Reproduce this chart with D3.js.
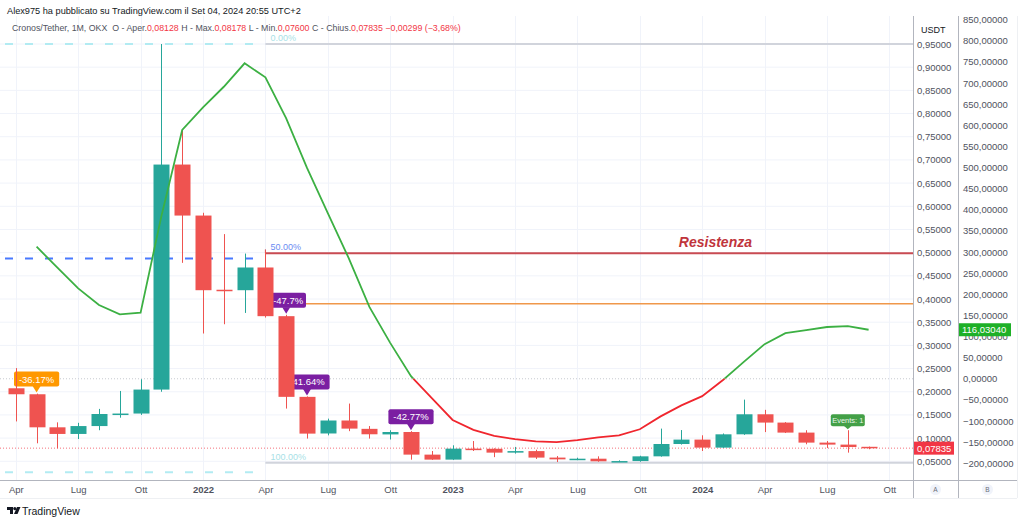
<!DOCTYPE html>
<html>
<head>
<meta charset="utf-8">
<script src="https://cdn.jsdelivr.net/npm/d3@7"></script>
<style>
body { margin: 0; background: #fff; }
svg { display: block; font-family: "Liberation Sans", Arial, sans-serif; }
</style>
</head>
<body>
<svg id="chart" width="1024" height="522"></svg>
<script>
// monthly bars, Apr 2021 .. Sep 2024
var months = ["2021-04","2021-05","2021-06","2021-07","2021-08","2021-09","2021-10","2021-11","2021-12",
  "2022-01","2022-02","2022-03","2022-04","2022-05","2022-06","2022-07","2022-08","2022-09","2022-10","2022-11","2022-12",
  "2023-01","2023-02","2023-03","2023-04","2023-05","2023-06","2023-07","2023-08","2023-09","2023-10","2023-11","2023-12",
  "2024-01","2024-02","2024-03","2024-04","2024-05","2024-06","2024-07","2024-08","2024-09"];
var open  = [0.2075,0.1946,0.1233,0.109,0.126,0.152,0.153,0.2047,0.690,
  0.580,0.420,0.419,0.468,0.363,0.189,0.110,0.138,0.120,0.108,0.1132,0.0644,
  0.0536,0.0773,0.0770,0.0687,0.072,0.058,0.0542,0.0556,0.050,0.0505,0.0607,0.0873,
  0.0968,0.0795,0.1082,0.1514,0.1335,0.1119,0.0903,0.0860,0.08128];
var high  = [0.251,0.196,0.134,0.133,0.163,0.2017,0.227,0.950,0.764,
  0.586,0.540,0.498,0.504,0.366,0.190,0.142,0.1745,0.126,0.117,0.115,0.0722,
  0.0845,0.0937,0.078,0.081,0.075,0.0613,0.0577,0.0607,0.052,0.062,0.1205,0.1174,
  0.1061,0.110,0.183,0.161,0.1345,0.117,0.0937,0.117,0.08178];
var low   = [0.136,0.0888,0.078,0.098,0.117,0.144,0.150,0.200,0.478,
  0.3256,0.3456,0.370,0.360,0.1637,0.099,0.106,0.115,0.099,0.097,0.0535,0.053,
  0.053,0.0722,0.059,0.0666,0.055,0.0484,0.0525,0.049,0.0484,0.049,0.060,0.086,
  0.0722,0.079,0.107,0.113,0.111,0.0867,0.0787,0.0687,0.0760];
var close = [0.1946,0.1233,0.109,0.126,0.152,0.153,0.2047,0.690,0.580,
  0.419,0.418,0.468,0.363,0.189,0.1097,0.138,0.1205,0.1083,0.1132,0.0644,0.0536,
  0.0773,0.0770,0.0687,0.072,0.058,0.0542,0.0556,0.050,0.0505,0.0607,0.0873,0.0968,
  0.0795,0.1082,0.1514,0.1335,0.1119,0.0903,0.0860,0.0808,0.07835];
// oscillator on scale B
var osc = [null,312.5,263,214,174.6,152.6,156.4,385,588.7,
  642.4,691,746.5,713.4,616,499,392,286,170,85,6,-45.5,
  -97.5,-121,-135,-143,-148,-150,-145,-138.5,-133.7,-119.5,-89,-63,
  -41,-3,40,82,108,115,122.5,124.8,116.0304];

var priceTicks = [0.05,0.10,0.15,0.20,0.25,0.30,0.35,0.40,0.45,0.50,0.55,0.60,0.65,0.70,0.75,0.80,0.85,0.90,0.95];
var bTicks = [-200,-150,-100,-50,0,50,100,150,200,250,300,350,400,450,500,550,600,650,700,750,800,850];
var timeTickIdx = [0,3,6,9,12,15,18,21,24,27,30,33,36,39,42];
var timeTickLabels = ["Apr","Lug","Ott","2022","Apr","Lug","Ott","2023","Apr","Lug","Ott","2024","Apr","Lug","Ott"];

// drawings
var fibStartIdx = 12;
var fibLevels = [0.95, 0.4985, 0.047];
var fibLabels = ["0.00%", "50.00%", "100.00%"];
var orangeLevel = 0.390;
var blueDashLevel = 0.4875;
var cyanLevels = [0.95, 0.0262];
var dashEndIdx = 11.5;
var callIdx = [1, 13, 14, 19, 40];
var callText = ["-36.17%", "-47.7%", "-41.64%", "-42.77%", "Events: 1"];
var lastPrice = 0.07835;

var itLocale = d3.formatLocale({decimal: ",", thousands: ".", grouping: [3], currency: ["", ""], minus: "\u2212"});
var fmt5 = itLocale.format(".5f");

var svg = d3.select("#chart");
var plotL = 0, plotR = 913, plotT = 16, plotB = 480;

var x = d3.scaleLinear().domain([0, 42]).range([15.8, 889.4]);
var yA = d3.scaleLinear().domain([0.05, 0.95]).range([461.3, 44]);
var yB = d3.scaleLinear().domain([-200, 800]).range([463.3, 40.7]);

var defs = svg.append("defs");
defs.append("clipPath").attr("id", "plot")
  .append("rect").attr("x", plotL).attr("y", plotT).attr("width", plotR - plotL).attr("height", plotB - plotT);
defs.append("clipPath").attr("id", "above")
  .append("rect").attr("x", 0).attr("y", 0).attr("width", plotR).attr("height", yB(0));
defs.append("clipPath").attr("id", "below")
  .append("rect").attr("x", 0).attr("y", yB(0)).attr("width", plotR).attr("height", 600);
defs.append("clipPath").attr("id", "axisB")
  .append("rect").attr("x", 958).attr("y", plotT).attr("width", 60).attr("height", plotB - plotT);

// grid
var grid = svg.append("g").attr("clip-path", "url(#plot)");
grid.selectAll("line.h").data(priceTicks).enter().append("line")
  .attr("x1", plotL).attr("x2", plotR).attr("y1", d => yA(d)).attr("y2", d => yA(d))
  .attr("stroke", "#f0f3fa").attr("stroke-width", 1);
grid.selectAll("line.v").data(timeTickIdx).enter().append("line")
  .attr("x1", d => Math.round(x(d)) + 0.5).attr("x2", d => Math.round(x(d)) + 0.5).attr("y1", plotT).attr("y2", plotB)
  .attr("stroke", "#f0f3fa").attr("stroke-width", 1);

var plot = svg.append("g").attr("clip-path", "url(#plot)");

// zero line of oscillator and last price line
plot.append("line").attr("x1", plotL).attr("x2", plotR).attr("y1", yB(0)).attr("y2", yB(0))
  .attr("stroke", "#c8cad0").attr("stroke-dasharray", "1,2");
plot.append("line").attr("x1", plotL).attr("x2", plotR).attr("y1", yA(lastPrice)).attr("y2", yA(lastPrice))
  .attr("stroke", "#f23645").attr("stroke-dasharray", "1,2").attr("opacity", 0.7);

// dashed horizontal lines on the left
plot.selectAll("line.cy").data(cyanLevels).enter().append("line")
  .attr("x1", 5).attr("x2", x(dashEndIdx)).attr("y1", d => yA(d)).attr("y2", d => yA(d))
  .attr("stroke", "#b2ebf2").attr("stroke-width", 2).attr("stroke-dasharray", "8,12");
plot.append("line").attr("x1", 5).attr("x2", x(dashEndIdx))
  .attr("y1", yA(blueDashLevel)).attr("y2", yA(blueDashLevel))
  .attr("stroke", "#2962ff").attr("stroke-width", 2).attr("stroke-dasharray", "8,12").attr("opacity", 0.85);

// fib levels
var fx = x(fibStartIdx);
plot.append("line").attr("x1", fx).attr("x2", plotR).attr("y1", yA(fibLevels[0])).attr("y2", yA(fibLevels[0]))
  .attr("stroke", "#d1d4dc").attr("stroke-width", 2);
plot.append("line").attr("x1", fx).attr("x2", plotR).attr("y1", yA(fibLevels[2])).attr("y2", yA(fibLevels[2]))
  .attr("stroke", "#d1d4dc").attr("stroke-width", 2);
plot.append("line").attr("x1", fx).attr("x2", plotR).attr("y1", yA(fibLevels[1])).attr("y2", yA(fibLevels[1]))
  .attr("stroke", "#c94b52").attr("stroke-width", 2);
plot.append("line").attr("x1", fx).attr("x2", fx).attr("y1", yA(fibLevels[1]) - 4).attr("y2", yA(fibLevels[1]))
  .attr("stroke", "#c94b52").attr("stroke-width", 1);
plot.append("line").attr("x1", fx).attr("x2", plotR).attr("y1", yA(orangeLevel)).attr("y2", yA(orangeLevel))
  .attr("stroke", "#f0984a").attr("stroke-width", 1.5);
var fibColors = ["#a8dfe6", "#6b8cf2", "#a8dfe6"];
plot.selectAll("text.fib").data(fibLevels).enter().append("text")
  .attr("x", fx + 5).attr("y", d => yA(d) - 3)
  .attr("font-size", 9).attr("fill", (d, i) => fibColors[i]).text((d, i) => fibLabels[i]);
plot.append("text").attr("x", 752).attr("y", 247).attr("text-anchor", "end")
  .attr("font-size", 14).attr("font-weight", "bold").attr("font-style", "italic")
  .attr("fill", "#c0343c").text("Resistenza");

// callouts (behind candles)
var callColors = ["#ff9800", "#7b1fa2", "#7b1fa2", "#7b1fa2", "#43a047"];
var calls = plot.selectAll("g.call").data(callIdx).enter().append("g");
calls.each(function(d, k) {
  var g = d3.select(this);
  var cx = x(d), tip = yA(high[d]) - 1;
  var small = k === 4;
  var h = small ? 12 : 15, w = small ? 34 : (callText[k].length * 5.6 + 6);
  var by = tip - (small ? 3 : 6) - h;
  var tx = cx + (k === 1 ? 2 : 0);
  g.append("rect").attr("x", cx - w / 2).attr("y", by).attr("width", w).attr("height", h)
    .attr("rx", 2).attr("fill", callColors[k]);
  g.append("path").attr("d", "M" + (cx - 4) + "," + (by + h - 0.5) + "L" + cx + "," + tip + "L" + (cx + 4) + "," + (by + h - 0.5) + "Z")
    .attr("fill", callColors[k]);
  g.append("text").attr("x", tx).attr("y", by + h / 2 + (small ? 2.5 : 3.5)).attr("text-anchor", "middle")
    .attr("font-size", small ? 7.5 : 9.5).attr("fill", small ? "#e8f5e9" : "#fff").text(callText[k]);
});

// candles
var up = "#26a69a", dn = "#ef5350";
var candles = plot.selectAll("g.c").data(months).enter().append("g");
candles.append("line")
  .attr("x1", (d, i) => Math.round(x(i)) + 0.5).attr("x2", (d, i) => Math.round(x(i)) + 0.5)
  .attr("y1", (d, i) => yA(high[i])).attr("y2", (d, i) => yA(low[i]))
  .attr("stroke", (d, i) => close[i] >= open[i] ? up : dn).attr("stroke-width", 1);
candles.append("rect")
  .attr("x", (d, i) => Math.round(x(i)) - 7.5).attr("width", 16)
  .attr("y", (d, i) => yA(Math.max(open[i], close[i])))
  .attr("height", (d, i) => Math.max(1.5, Math.abs(yA(open[i]) - yA(close[i]))))
  .attr("fill", (d, i) => close[i] >= open[i] ? up : dn);

// oscillator line, green above zero and red below
var oscLine = d3.line().defined(d => d !== null).x((d, i) => x(i)).y(d => yB(d));
plot.append("path").datum(osc).attr("d", oscLine).attr("fill", "none")
  .attr("stroke", "#3cb043").attr("stroke-width", 1.8).attr("clip-path", "url(#above)");
plot.append("path").datum(osc).attr("d", oscLine).attr("fill", "none")
  .attr("stroke", "#f0262e").attr("stroke-width", 1.8).attr("clip-path", "url(#below)");

// frame lines
svg.append("line").attr("x1", 0).attr("x2", 1017).attr("y1", plotB + 0.5).attr("y2", plotB + 0.5).attr("stroke", "#b2b5be");
[913, 958].forEach(function(v) {
  svg.append("line").attr("x1", v + 0.5).attr("x2", v + 0.5).attr("y1", plotT).attr("y2", 498).attr("stroke", "#b2b5be");
});
svg.append("line").attr("x1", 1017.5).attr("x2", 1017.5).attr("y1", plotT).attr("y2", 498).attr("stroke", "#eef0f3");
svg.append("line").attr("x1", 0).attr("x2", 1017).attr("y1", 498.5).attr("y2", 498.5).attr("stroke", "#eef0f3");

// axis A
var axA = svg.append("g").attr("transform", "translate(913,0)")
  .call(d3.axisRight(yA).tickValues(priceTicks).tickSize(0).tickPadding(4).tickFormat(fmt5));
axA.select(".domain").remove();
axA.selectAll("text").attr("font-size", 9.5).attr("fill", "#50535e").attr("font-family", "Liberation Sans, Arial, sans-serif");
svg.append("rect").attr("x", 915).attr("y", 21).attr("width", 40).attr("height", 16).attr("fill", "#fff");
svg.append("text").attr("x", 921).attr("y", 32.5).attr("font-size", 9).attr("fill", "#131722").text("USDT");

// axis B (clip on an untransformed wrapper)
var axBWrap = svg.append("g").attr("clip-path", "url(#axisB)");
var axB = axBWrap.append("g").attr("transform", "translate(958,0)")
  .call(d3.axisRight(yB).tickValues(bTicks).tickSize(0).tickPadding(5).tickFormat(fmt5));
axB.select(".domain").remove();
axB.selectAll("text").attr("font-size", 9.5).attr("fill", "#50535e").attr("font-family", "Liberation Sans, Arial, sans-serif");

// price tags
svg.append("rect").attr("x", 914).attr("y", yA(lastPrice) - 6.5).attr("width", 40).attr("height", 13).attr("fill", "#f23645");
svg.append("text").attr("x", 917).attr("y", yA(lastPrice) + 3.5).attr("font-size", 9.5).attr("fill", "#fff").text(fmt5(lastPrice));
var lastOsc = osc[osc.length - 1];
svg.append("rect").attr("x", 959).attr("y", yB(lastOsc) - 6.5).attr("width", 52).attr("height", 13).attr("fill", "#1eb027");
svg.append("text").attr("x", 962).attr("y", yB(lastOsc) + 3.5).attr("font-size", 9.5).attr("fill", "#fff").text(fmt5(lastOsc));

// time axis
var axT = svg.append("g").attr("transform", "translate(0," + plotB + ")")
  .call(d3.axisBottom(x).tickValues(timeTickIdx).tickSize(0).tickPadding(6).tickFormat((d, i) => timeTickLabels[i]));
axT.select(".domain").remove();
axT.selectAll("text").attr("font-size", 9.5).attr("fill", "#50535e").attr("font-family", "Liberation Sans, Arial, sans-serif")
  .attr("font-weight", (d, i) => /^\d+$/.test(timeTickLabels[i]) ? "bold" : "normal");

// A / B buttons
[["A", 935.5], ["B", 987.5]].forEach(function(b) {
  svg.append("circle").attr("cx", b[1]).attr("cy", 489.5).attr("r", 5.5).attr("fill", "#f0f3fa");
  svg.append("text").attr("x", b[1]).attr("y", 492).attr("text-anchor", "middle").attr("font-size", 6.5).attr("fill", "#6a6d78").text(b[0]);
});

// header
svg.append("text").attr("x", 7).attr("y", 14).attr("font-size", 9.2).attr("fill", "#131722")
  .text("Alex975 ha pubblicato su TradingView.com il Set 04, 2024 20:55 UTC+2");
var hdr = svg.append("text").attr("x", 12).attr("y", 31).attr("font-size", 8.8).attr("xml:space", "preserve");
var parts = [["Cronos/Tether, 1M, OKX  O - Aper.", "#50535e"], ["0,08128", "#f23645"], [" H - Max.", "#50535e"], ["0,08178", "#f23645"],
  [" L - Min.", "#50535e"], ["0,07600", "#f23645"], [" C - Chius.", "#50535e"], ["0,07835", "#f23645"], [" \u22120,00299 (\u22123,68%)", "#f23645"]];
parts.forEach(p => hdr.append("tspan").attr("fill", p[1]).text(p[0]));

// footer logo
var logo = svg.append("g").attr("transform", "translate(7,507)").attr("fill", "#131722");
logo.append("path").attr("d", "M0,0H6V7H3V3H0Z");
logo.append("circle").attr("cx", 7.8).attr("cy", 1.6).attr("r", 1.6);
logo.append("path").attr("d", "M10,0H13.5L10.5,7H7Z");
svg.append("text").attr("x", 22).attr("y", 515).attr("font-size", 10.5).attr("fill", "#131722").text("TradingView");
</script>
</body>
</html>
